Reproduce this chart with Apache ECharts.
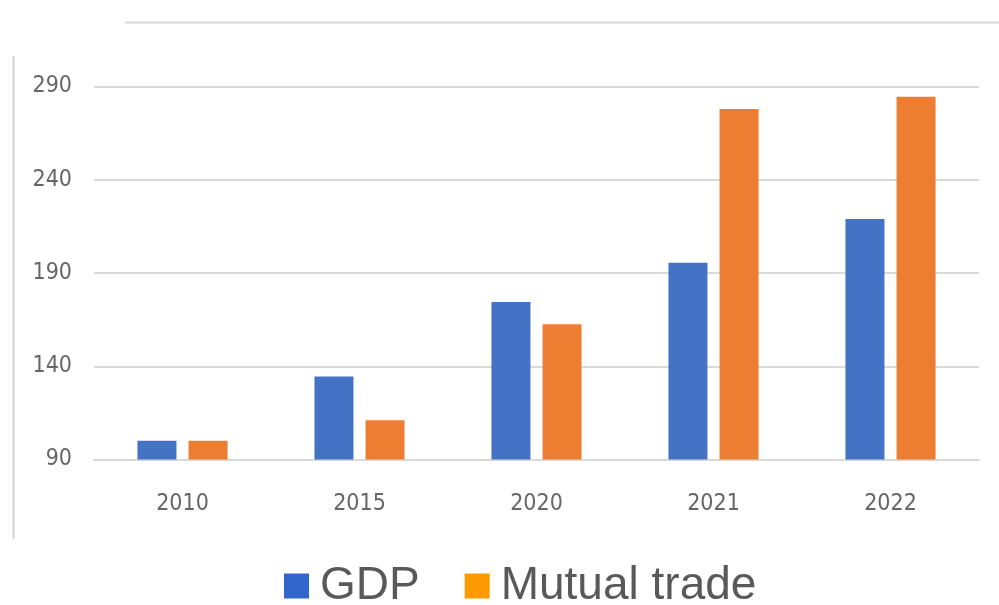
<!DOCTYPE html>
<html>
<head>
<meta charset="utf-8">
<script src="https://cdn.jsdelivr.net/npm/echarts@6/dist/echarts.min.js"></script>
<style>
html,body{margin:0;padding:0;background:#fff;}
#chart{width:999px;height:605px;}
</style>
</head>
<body>
<div id="chart"></div>
<script>
const categories = ['2010', '2015', '2020', '2021', '2022'];
const gdpValues = [100, 134.5, 174.5, 195.5, 219];
const tradeValues = [100, 111, 162.5, 278, 284.5];
const seriesNames = ['GDP', 'Mutual trade'];

const chart = echarts.init(document.getElementById('chart'), null, {renderer: 'canvas'});
const axisFont = '"Liberation Sans Narrow", "Arial Narrow", "DejaVu Sans Condensed", sans-serif';

chart.setOption({
  backgroundColor: '#ffffff',
  animation: false,
  grid: {left: 94, right: 20, top: 86.5, bottom: 145.5, containLabel: false},
  graphic: [
    {type: 'line', shape: {x1: 125, y1: 22.5, x2: 999, y2: 22.5}, style: {stroke: '#d9d9d9', lineWidth: 2}},
    {type: 'line', shape: {x1: 13.5, y1: 56, x2: 13.5, y2: 539}, style: {stroke: '#d4d4d4', lineWidth: 2}}
  ],
  legend: {
    left: 284,
    top: 563,
    padding: 0,
    itemWidth: 25,
    itemHeight: 25,
    itemGap: 45,
    icon: 'rect',
    textStyle: {fontFamily: 'Arial, "Liberation Sans", sans-serif', fontSize: 46, color: '#595959', padding: [0, 0, 0, 6]},
    data: [
      {name: seriesNames[0], itemStyle: {color: '#3366cc'}},
      {name: seriesNames[1], itemStyle: {color: '#ff9900'}}
    ]
  },
  xAxis: {
    type: 'category',
    data: categories,
    axisLine: {show: true, lineStyle: {color: '#d9d9d9', width: 2}},
    axisTick: {show: false},
    axisLabel: {margin: 33, fontSize: 23, color: '#666666', fontFamily: axisFont}
  },
  yAxis: {
    type: 'value',
    min: 90,
    max: 290,
    interval: 50,
    axisLine: {show: false},
    axisTick: {show: false},
    splitLine: {lineStyle: {color: '#d9d9d9', width: 2}},
    axisLabel: {margin: 22, fontSize: 23, color: '#666666', fontFamily: axisFont}
  },
  series: [
    {name: seriesNames[0], type: 'bar', data: gdpValues, barWidth: 39, barGap: '31%', itemStyle: {color: '#4472c4'}},
    {name: seriesNames[1], type: 'bar', data: tradeValues, barWidth: 39, itemStyle: {color: '#ed7d31'}}
  ]
});
</script>
</body>
</html>
